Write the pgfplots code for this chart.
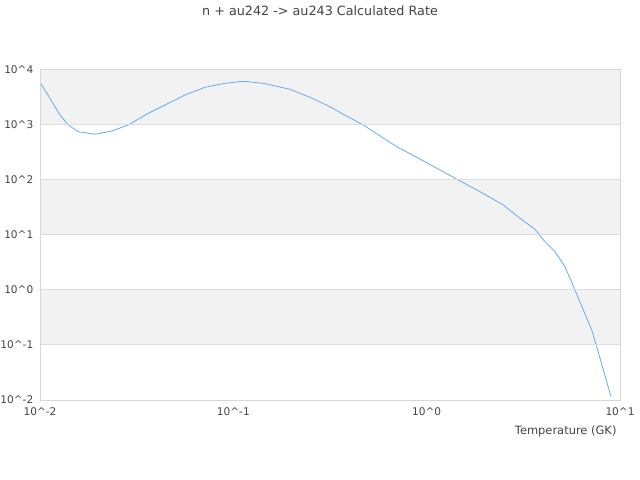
\documentclass[border=0pt]{standalone}
\usepackage{fontspec}
\setmainfont{DejaVu Sans}
\usepackage{pgfplots}
\pgfplotsset{compat=1.18}
\definecolor{bandgray}{HTML}{F2F2F2}
\definecolor{gridgray}{HTML}{DDDDDD}
\definecolor{framegray}{HTML}{D8D8D8}
\definecolor{txt}{HTML}{444444}
\definecolor{rateline}{HTML}{66AAEE}

\begin{document}
\begin{tikzpicture}[x=1bp,y=1bp]
\useasboundingbox (0,0) rectangle (640,480);
\path[fill=white] (0,0) rectangle (640,480);
\node[anchor=base, text=txt, font=\fontsize{12.8}{15}\selectfont] at (320,464) {n + au242 -> au243 Calculated Rate};
\begin{axis}[
    axis on top,
    at={(40bp,80bp)}, anchor=south west,
    scale only axis, width=580bp, height=330.7bp,
    xmode=log, ymode=log,
    xmin=0.01, xmax=10, ymin=0.01, ymax=10000,
    xtick={0.01,0.1,1,10},
    xticklabels={10\textasciicircum-2,10\textasciicircum-1,10\textasciicircum0,10\textasciicircum1},
    ytick={0.01,0.1,1,10,100,1000,10000},
    yticklabels={10\textasciicircum-2,10\textasciicircum-1,10\textasciicircum0,10\textasciicircum1,10\textasciicircum2,10\textasciicircum3,10\textasciicircum4},
    major tick length=0, minor tick length=0,
    ymajorgrids, grid style={gridgray, line width=0.8bp},
    axis line style={framegray, line width=0.8bp},
    tick label style={font=\fontsize{10.6}{13}\selectfont, text=txt},
    xticklabel style={yshift=-4.5bp},
    yticklabel style={xshift=-3.2bp},
]
\fill[bandgray] (axis cs:0.01,1000) rectangle (axis cs:10,10000);
\fill[bandgray] (axis cs:0.01,10) rectangle (axis cs:10,100);
\fill[bandgray] (axis cs:0.01,0.1) rectangle (axis cs:10,1);
\addplot[rateline, line width=0.8bp, mark=none] coordinates {
    (0.0100, 5810)
    (0.01126, 2980)
    (0.01269, 1483)
    (0.01400, 976)
    (0.01578, 738)
    (0.01925, 662)
    (0.02349, 760)
    (0.02862, 976)
    (0.03633, 1592)
    (0.04609, 2415)
    (0.05623, 3418)
    (0.07137, 4715)
    (0.09055, 5572)
    (0.1126, 6058)
    (0.1429, 5572)
    (0.1964, 4337)
    (0.2492, 3105)
    (0.3162, 2097)
    (0.3706, 1527)
    (0.4702, 976)
    (0.6998, 394)
    (0.8882, 253)
    (1.172, 149)
    (1.547, 87.6)
    (1.888, 60.2)
    (2.491, 34.5)
    (3.040, 19.8)
    (3.635, 12.5)
    (4.02, 7.98)
    (4.61, 4.91)
    (5.194, 2.62)
    (5.85, 0.99)
    (6.46, 0.43)
    (7.14, 0.186)
    (7.58, 0.0927)
    (8.20, 0.035)
    (8.98, 0.01148)
};
\end{axis}
\node[anchor=base east, text=txt, font=\fontsize{11.5}{13}\selectfont] at (620,45) {Temperature (GK)};
\end{tikzpicture}
\end{document}
